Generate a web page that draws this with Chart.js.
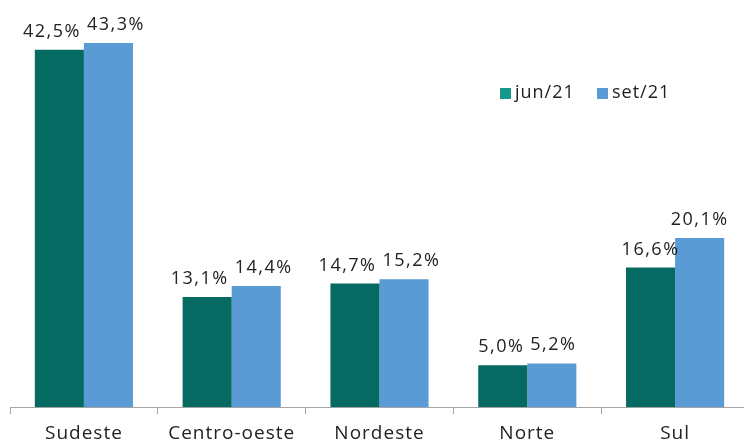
<meta charset="UTF-8">
<style>
  html, body { margin: 0; padding: 0; overflow: hidden; background: #fff; height: 441px; }
  #myChart { display: block; }
</style>

<canvas id="myChart" width="749" height="453"></canvas>

<script src="https://cdn.jsdelivr.net/npm/chart.js@4.3.0/dist/chart.umd.min.js"></script>

<script>
  const labels = ['Sudeste', 'Centro-oeste', 'Nordeste', 'Norte', 'Sul'];
  const jun21 = [42.5, 13.1, 14.7, 5.0, 16.6];
  const set21 = [43.3, 14.4, 15.2, 5.2, 20.1];

  const FONT = '"Open Sans", "Noto Sans", sans-serif';

  const fmt = v => v.toFixed(1).replace('.', ',') + '%';

  // espaçamento das letras (fonte original é bem larga)
  const spacing = {
    id: 'spacing',
    beforeDraw(chart) {
      chart.ctx.letterSpacing = '1px';
    }
  };

  // valores em cima das barras + legenda dentro da área
  const barLabels = {
    id: 'barLabels',
    afterDatasetsDraw(chart) {
      const ctx = chart.ctx;
      ctx.save();
      ctx.font = '18px ' + FONT;
      ctx.letterSpacing = '1.5px';
      ctx.fillStyle = '#222';
      ctx.textAlign = 'center';
      ctx.textBaseline = 'alphabetic';
      const m0 = chart.getDatasetMeta(0).data;
      const m1 = chart.getDatasetMeta(1).data;
      m0.forEach((b0, j) => {
        const b1 = m1[j];
        const t0 = fmt(jun21[j]), t1 = fmt(set21[j]);
        const w0 = ctx.measureText(t0).width, w1 = ctx.measureText(t1).width;
        let x0 = b0.x, x1 = b1.x;
        const y0 = b0.y - 13, y1 = b1.y - 13;
        // se os rótulos se sobrepõem, afasta um do outro
        if (Math.abs(y0 - y1) < 16) {
          const need = (w0 + w1) / 2 + 6;
          const d = x1 - x0;
          if (d < need) {
            x0 -= (need - d) / 2;
            x1 += (need - d) / 2;
          }
        }
        ctx.fillText(t0, x0, y0);
        ctx.fillText(t1, x1, y1);
      });

      // legenda
      const items = [
        { text: 'jun/21', color: '#16998a', x: 500 },
        { text: 'set/21', color: '#5b9bd5', x: 597 }
      ];
      ctx.font = '18px ' + FONT;
      ctx.letterSpacing = '1px';
      ctx.textAlign = 'left';
      ctx.textBaseline = 'middle';
      items.forEach(it => {
        ctx.fillStyle = it.color;
        ctx.fillRect(it.x, 88, 11, 11);
        ctx.fillStyle = '#222';
        ctx.fillText(it.text, it.x + 15, 93);
      });
      ctx.restore();
    }
  };

  const data = {
    labels: labels,
    datasets: [
      {
        label: 'jun/21',
        data: jun21,
        backgroundColor: '#046a62',
        categoryPercentage: 0.664,
        barPercentage: 1.0
      },
      {
        label: 'set/21',
        data: set21,
        backgroundColor: '#5b9bd5',
        categoryPercentage: 0.664,
        barPercentage: 1.0
      }
    ]
  };

  const config = {
    type: 'bar',
    data: data,
    options: {
      responsive: false,
      animation: false,
      layout: {
        padding: { left: 10, right: 0, top: 0, bottom: 0 }
      },
      plugins: {
        legend: { display: false },
        tooltip: { enabled: false }
      },
      scales: {
        x: {
          grid: {
            offset: true,
            drawOnChartArea: false,
            tickLength: 7,
            color: '#a6a6a6'
          },
          border: { color: '#a6a6a6' },
          ticks: {
            color: '#222',
            padding: 8,
            font: { family: FONT, size: 19 }
          }
        },
        y: {
          display: false,
          min: 0,
          max: 48.4
        }
      }
    },
    plugins: [spacing, barLabels]
  };

  new Chart(document.getElementById('myChart'), config);
</script>
